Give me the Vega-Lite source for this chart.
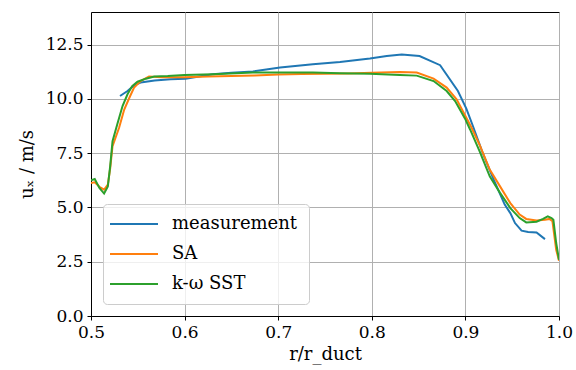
{
  "$schema": "https://vega.github.io/schema/vega-lite/v6.json",
  "autosize": {"type": "none"},
  "width": 468,
  "height": 304,
  "padding": {"left": 91, "top": 12, "right": 17, "bottom": 54},
  "background": "white",
  "config": {
    "font": "DejaVu Serif",
    "style": {
      "guide-label": {"font": "DejaVu Serif", "fill": "black"},
      "guide-title": {"font": "DejaVu Serif", "fill": "black"}
    },
    "view": {"stroke": "black", "strokeWidth": 1},
    "axis": {
      "labelFont": "DejaVu Serif",
      "titleFont": "DejaVu Serif",
      "labelFontSize": 17,
      "titleFontSize": 18,
      "titleFontWeight": "normal",
      "labelColor": "black",
      "titleColor": "black",
      "domainColor": "black",
      "tickColor": "black",
      "tickSize": 4,
      "labelPadding": 4,
      "labelFlush": false,
      "gridColor": "#b0b0b0",
      "gridWidth": 1,
      "gridOpacity": 1
    },
    "legend": {
      "labelFont": "DejaVu Serif",
      "labelFontSize": 18,
      "labelColor": "black"
    }
  },
  "data": {
    "values": [
      {"model": "measurement", "r": 0.531, "u": 10.13},
      {"model": "measurement", "r": 0.539, "u": 10.36},
      {"model": "measurement", "r": 0.546, "u": 10.62},
      {"model": "measurement", "r": 0.553, "u": 10.75},
      {"model": "measurement", "r": 0.568, "u": 10.85},
      {"model": "measurement", "r": 0.585, "u": 10.90},
      {"model": "measurement", "r": 0.601, "u": 10.93},
      {"model": "measurement", "r": 0.630, "u": 11.13},
      {"model": "measurement", "r": 0.650, "u": 11.20},
      {"model": "measurement", "r": 0.673, "u": 11.26},
      {"model": "measurement", "r": 0.702, "u": 11.44},
      {"model": "measurement", "r": 0.737, "u": 11.59},
      {"model": "measurement", "r": 0.766, "u": 11.70},
      {"model": "measurement", "r": 0.798, "u": 11.86},
      {"model": "measurement", "r": 0.816, "u": 11.97},
      {"model": "measurement", "r": 0.832, "u": 12.04},
      {"model": "measurement", "r": 0.851, "u": 11.97},
      {"model": "measurement", "r": 0.873, "u": 11.55},
      {"model": "measurement", "r": 0.892, "u": 10.36},
      {"model": "measurement", "r": 0.901, "u": 9.55},
      {"model": "measurement", "r": 0.908, "u": 8.75},
      {"model": "measurement", "r": 0.919, "u": 7.45},
      {"model": "measurement", "r": 0.930, "u": 6.30},
      {"model": "measurement", "r": 0.942, "u": 5.13},
      {"model": "measurement", "r": 0.948, "u": 4.74},
      {"model": "measurement", "r": 0.953, "u": 4.28},
      {"model": "measurement", "r": 0.960, "u": 3.93},
      {"model": "measurement", "r": 0.967, "u": 3.87},
      {"model": "measurement", "r": 0.976, "u": 3.85},
      {"model": "measurement", "r": 0.985, "u": 3.54},

      {"model": "SA", "r": 0.500, "u": 6.13},
      {"model": "SA", "r": 0.504, "u": 6.16},
      {"model": "SA", "r": 0.509, "u": 5.95},
      {"model": "SA", "r": 0.514, "u": 5.82},
      {"model": "SA", "r": 0.518, "u": 6.05},
      {"model": "SA", "r": 0.5205, "u": 6.8},
      {"model": "SA", "r": 0.523, "u": 7.82},
      {"model": "SA", "r": 0.530, "u": 8.67},
      {"model": "SA", "r": 0.5355, "u": 9.51},
      {"model": "SA", "r": 0.541, "u": 10.05},
      {"model": "SA", "r": 0.546, "u": 10.52},
      {"model": "SA", "r": 0.553, "u": 10.82},
      {"model": "SA", "r": 0.562, "u": 11.03},
      {"model": "SA", "r": 0.575, "u": 11.0},
      {"model": "SA", "r": 0.600, "u": 11.0},
      {"model": "SA", "r": 0.625, "u": 11.03},
      {"model": "SA", "r": 0.650, "u": 11.05},
      {"model": "SA", "r": 0.675, "u": 11.08},
      {"model": "SA", "r": 0.700, "u": 11.12},
      {"model": "SA", "r": 0.725, "u": 11.15},
      {"model": "SA", "r": 0.750, "u": 11.16},
      {"model": "SA", "r": 0.775, "u": 11.17},
      {"model": "SA", "r": 0.800, "u": 11.2},
      {"model": "SA", "r": 0.830, "u": 11.24},
      {"model": "SA", "r": 0.848, "u": 11.21},
      {"model": "SA", "r": 0.866, "u": 10.93},
      {"model": "SA", "r": 0.880, "u": 10.52},
      {"model": "SA", "r": 0.8906, "u": 9.98},
      {"model": "SA", "r": 0.901, "u": 9.13},
      {"model": "SA", "r": 0.9066, "u": 8.67},
      {"model": "SA", "r": 0.915, "u": 7.9},
      {"model": "SA", "r": 0.926, "u": 6.74},
      {"model": "SA", "r": 0.937, "u": 5.97},
      {"model": "SA", "r": 0.948, "u": 5.2},
      {"model": "SA", "r": 0.958, "u": 4.67},
      {"model": "SA", "r": 0.965, "u": 4.47},
      {"model": "SA", "r": 0.976, "u": 4.4},
      {"model": "SA", "r": 0.985, "u": 4.43},
      {"model": "SA", "r": 0.990, "u": 4.47},
      {"model": "SA", "r": 0.993, "u": 4.36},
      {"model": "SA", "r": 0.997, "u": 3.05},
      {"model": "SA", "r": 1.000, "u": 2.55},

      {"model": "k-ω SST", "r": 0.500, "u": 6.25},
      {"model": "k-ω SST", "r": 0.504, "u": 6.31},
      {"model": "k-ω SST", "r": 0.509, "u": 5.9},
      {"model": "k-ω SST", "r": 0.514, "u": 5.64},
      {"model": "k-ω SST", "r": 0.518, "u": 5.97},
      {"model": "k-ω SST", "r": 0.5205, "u": 6.9},
      {"model": "k-ω SST", "r": 0.523, "u": 8.05},
      {"model": "k-ω SST", "r": 0.528, "u": 8.82},
      {"model": "k-ω SST", "r": 0.5337, "u": 9.67},
      {"model": "k-ω SST", "r": 0.539, "u": 10.21},
      {"model": "k-ω SST", "r": 0.544, "u": 10.59},
      {"model": "k-ω SST", "r": 0.5497, "u": 10.79},
      {"model": "k-ω SST", "r": 0.5586, "u": 10.93},
      {"model": "k-ω SST", "r": 0.5676, "u": 11.03},
      {"model": "k-ω SST", "r": 0.582, "u": 11.05},
      {"model": "k-ω SST", "r": 0.600, "u": 11.1},
      {"model": "k-ω SST", "r": 0.630, "u": 11.13},
      {"model": "k-ω SST", "r": 0.673, "u": 11.21},
      {"model": "k-ω SST", "r": 0.700, "u": 11.21},
      {"model": "k-ω SST", "r": 0.737, "u": 11.21},
      {"model": "k-ω SST", "r": 0.766, "u": 11.18},
      {"model": "k-ω SST", "r": 0.798, "u": 11.16},
      {"model": "k-ω SST", "r": 0.830, "u": 11.1},
      {"model": "k-ω SST", "r": 0.848, "u": 11.07},
      {"model": "k-ω SST", "r": 0.866, "u": 10.82},
      {"model": "k-ω SST", "r": 0.880, "u": 10.36},
      {"model": "k-ω SST", "r": 0.889, "u": 9.9},
      {"model": "k-ω SST", "r": 0.8995, "u": 9.1},
      {"model": "k-ω SST", "r": 0.905, "u": 8.59},
      {"model": "k-ω SST", "r": 0.915, "u": 7.6},
      {"model": "k-ω SST", "r": 0.926, "u": 6.43},
      {"model": "k-ω SST", "r": 0.937, "u": 5.67},
      {"model": "k-ω SST", "r": 0.948, "u": 4.97},
      {"model": "k-ω SST", "r": 0.958, "u": 4.51},
      {"model": "k-ω SST", "r": 0.965, "u": 4.31},
      {"model": "k-ω SST", "r": 0.976, "u": 4.34},
      {"model": "k-ω SST", "r": 0.983, "u": 4.47},
      {"model": "k-ω SST", "r": 0.988, "u": 4.59},
      {"model": "k-ω SST", "r": 0.992, "u": 4.51},
      {"model": "k-ω SST", "r": 0.994, "u": 4.43},
      {"model": "k-ω SST", "r": 0.997, "u": 3.36},
      {"model": "k-ω SST", "r": 1.000, "u": 2.59}
    ]
  },
  "mark": {"type": "line", "strokeWidth": 2, "clip": true},
  "encoding": {
    "x": {
      "field": "r",
      "type": "quantitative",
      "scale": {"domain": [0.5, 1.0], "nice": false, "zero": false},
      "axis": {
        "values": [0.5, 0.6, 0.7, 0.8, 0.9, 1.0],
        "format": ".1f",
        "labelFont": "DejaVu Serif",
        "title": "r/r_duct",
        "titlePadding": 5
      }
    },
    "y": {
      "field": "u",
      "type": "quantitative",
      "scale": {"domain": [0, 14], "nice": false},
      "axis": {
        "values": [0, 2.5, 5, 7.5, 10, 12.5],
        "format": ".1f",
        "labelFont": "DejaVu Serif",
        "title": "uₓ / m/s",
        "titlePadding": 9
      }
    },
    "color": {
      "field": "model",
      "type": "nominal",
      "sort": ["measurement", "SA", "k-ω SST"],
      "scale": {
        "domain": ["measurement", "SA", "k-ω SST"],
        "range": ["#1f77b4", "#ff7f0e", "#2ca02c"]
      },
      "legend": {
        "title": null,
        "orient": "bottom-left",
        "offset": 12,
        "symbolType": "M-3.25,0H8.75",
        "symbolSize": 64,
        "symbolStrokeWidth": 2,
        "labelOffset": 40,
        "padding": 11,
        "rowPadding": 12,
        "fillColor": "rgba(255,255,255,0.8)",
        "strokeColor": "#cccccc",
        "cornerRadius": 4
      }
    }
  }
}
